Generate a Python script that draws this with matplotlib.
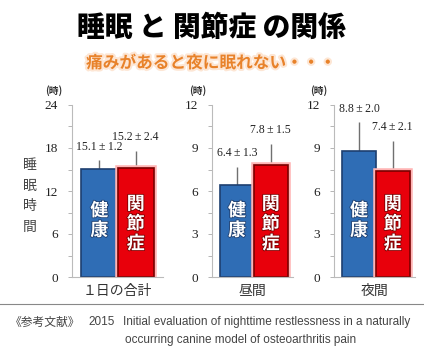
import matplotlib
matplotlib.use("Agg")
import matplotlib.pyplot as plt
import matplotlib.patheffects as pe
from matplotlib.transforms import blended_transform_factory

plt.rcParams['font.family'] = ['Noto Sans CJK JP', 'DejaVu Sans']

# data
panels = ["１日の合計", "昼間", "夜間"]
healthy_mean = [15.1, 6.4, 8.8]
healthy_sd = [1.2, 1.3, 2.0]
oa_mean = [15.2, 7.8, 7.4]
oa_sd = [2.4, 1.5, 2.1]
ymax = [24, 12, 12]
ystep = [6, 3, 3]

BLUE = "#2f6db5"
RED = "#e8000b"
W, H = 424, 349

fig = plt.figure(figsize=(W / 100, H / 100), dpi=100)
fig.patch.set_facecolor("white")

# pixel boxes of each axes: left, right
boxes = [(72, 163), (212, 293), (334, 415)]
xlims = [(-0.75, 1.75), (-0.74, 1.66), (-0.74, 1.66)]
top_px, bot_px = 105, 277

for i in range(3):
    l, r = boxes[i]
    ax = fig.add_axes([l / W, (H - bot_px) / H, (r - l) / W, (bot_px - top_px) / H])
    ax.set_xlim(*xlims[i])
    ax.set_ylim(0, ymax[i])

    means = [healthy_mean[i], oa_mean[i]]
    sds = [healthy_sd[i], oa_sd[i]]

    # error bars, upper only
    ax.errorbar([0, 1], means, yerr=[[0, 0], sds], fmt="none", ecolor="#707070",
                elinewidth=1.0, capsize=0, zorder=1)
    bh = ax.bar(0, means[0], width=1, color=BLUE, edgecolor="#1e3f70", linewidth=1.2, zorder=2)
    br = ax.bar(1, means[1], width=1, color=RED, edgecolor="#7a0000", linewidth=1.2, zorder=2)
    br[0].set_path_effects([pe.Stroke(linewidth=4, foreground="#ffb4b4"), pe.Normal()])

    for x, m, s in zip([0, 1], means, sds):
        ax.annotate(f"{m:.1f}\u2009±\u2009{s:.1f}", (x, m + s), xytext=(0, 5.5),
                    textcoords="offset points", ha="center", va="bottom", fontsize=8.5,
                    family=["Liberation Serif", "DejaVu Serif"], color="#222222")

    trans = blended_transform_factory(ax.transData, ax.transAxes)
    ax.text(0, 0.33, "健\n康", transform=trans, ha="center", va="center", color="white",
            fontsize=13, fontweight="bold", linespacing=1.05, zorder=3,
            path_effects=[pe.withStroke(linewidth=1.2, foreground="#1e3f70")])
    ax.text(1, 0.31, "関\n節\n症", transform=trans, ha="center", va="center", color="white",
            fontsize=13, fontweight="bold", linespacing=1.05, zorder=3,
            path_effects=[pe.withStroke(linewidth=1.2, foreground="#7a0000")])

    ax.set_yticks(range(0, ymax[i] + 1, ystep[i]))
    ax.set_yticks([v / 2 for v in range(0, 2 * ymax[i] + 1, ystep[i])], minor=True)
    for lab in ax.get_yticklabels():
        lab.set_family("Liberation Serif")
    ax.tick_params(axis="y", which="both", length=3, width=0.6, color="#aaaaaa",
                   labelsize=9.5, pad=7, labelcolor="#222222")
    ax.set_xticks([])
    for side in ["top", "right"]:
        ax.spines[side].set_visible(False)
    for side in ["left", "bottom"]:
        ax.spines[side].set_color("#bbbbbb")
        ax.spines[side].set_linewidth(0.8)
    ax.set_facecolor("none")

    fig.text(((l + r) / 2 + 0) / W, 1 - 291 / H, panels[i], ha="center", va="center",
             fontsize=10, color="#333333")

# (時) labels
for x in [54, 198, 319]:
    fig.text(x / W, 1 - 91 / H, "(時)", ha="center", va="center", fontsize=7,
             fontweight="bold", color="#333333")

# y label
fig.text(30 / W, 1 - 196 / H, "睡\n眠\n時\n間", ha="center", va="center", fontsize=10,
         color="#444444", linespacing=1.6)

# titles
fig.text(211 / W, 1 - 28 / H, "睡眠 と 関節症 の関係", ha="center", va="center",
         fontsize=20, fontweight="black", color="black")
fig.text(211 / W, 1 - 63 / H, "痛みがあると夜に眠れない・・・", ha="center", va="center",
         fontsize=12, fontweight="bold", color="#e8822a",
         path_effects=[pe.withStroke(linewidth=3, foreground="#fde6d4")])

# separator line and reference
fig.add_artist(plt.Line2D([0, 1], [1 - 304 / H] * 2, transform=fig.transFigure,
                          color="#888888", linewidth=0.8))
fig.text(10 / W, 1 - 322 / H, "《参考文献》", ha="left", va="center", fontsize=8.5,
         color="#444444")
fig.text(88 / W, 1 - 322 / H, "2015", ha="left", va="center", fontsize=8.5,
         family="Liberation Sans", color="#444444")
fig.text(123 / W, 1 - 322 / H, "Initial evaluation of nighttime restlessness in a naturally",
         ha="left", va="center", fontsize=8.5, family="Liberation Sans", color="#444444")
fig.text(125 / W, 1 - 340 / H, "occurring canine model of osteoarthritis pain",
         ha="left", va="center", fontsize=8.5, family="Liberation Sans", color="#444444")

fig.savefig("out.png", dpi=100, facecolor="white")
